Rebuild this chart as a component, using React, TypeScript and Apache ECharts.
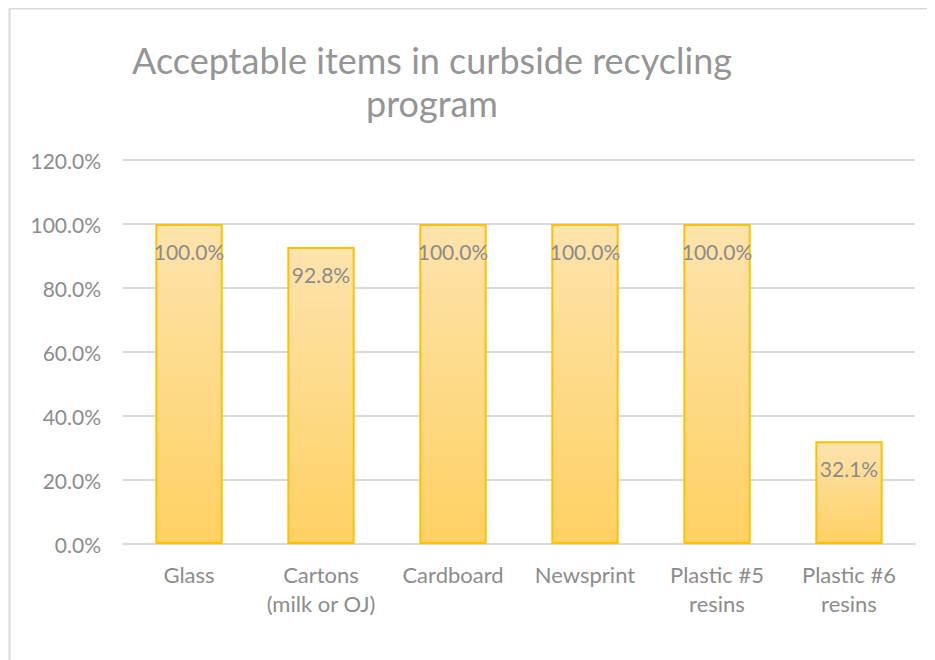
import React, { useEffect, useRef } from "react";
import * as echarts from "echarts";

const categories = ["Glass", "Cartons\n(milk or OJ)", "Cardboard", "Newsprint", "Plastic #5\nresins", "Plastic #6\nresins"];
const values = [100.0, 92.8, 100.0, 100.0, 100.0, 32.1];
const titleText = "Acceptable items in curbside recycling\nprogram";

export default function App() {
  const ref = useRef<HTMLDivElement>(null);
  useEffect(() => {
    const chart = echarts.init(ref.current!, null, { renderer: "svg" });
    const font = "Lato, 'Open Sans', sans-serif";
    chart.setOption({
      animation: false,
      backgroundColor: "#ffffff",
      title: {
        text: titleText,
        left: 419,
        top: 25,
        textAlign: "center",
        textStyle: { fontFamily: font, fontSize: 36, fontWeight: "normal", color: "#959595", lineHeight: 43 },
      },
      graphic: [
        {
          type: "rect",
          shape: { x: 1.5, y: 0.5, width: 2000, height: 2000 },
          style: { fill: "none", stroke: "#d9d9d9", lineWidth: 2 },
          silent: true,
        },
      ],
      grid: { left: 115, right: 20, top: 152, bottom: 116 },
      xAxis: {
        type: "category",
        data: categories,
        axisLine: { show: true, lineStyle: { color: "#d9d9d9", width: 2 } },
        axisTick: { show: false },
        axisLabel: { fontFamily: font, fontSize: 22, color: "#8c8c8c", margin: 16, lineHeight: 29, interval: 0 },
      },
      yAxis: {
        type: "value",
        min: 0,
        max: 120,
        interval: 20,
        axisLine: { show: false },
        axisTick: { show: false },
        splitLine: { lineStyle: { color: "#d9d9d9", width: 2 } },
        axisLabel: { fontFamily: font, fontSize: 21, color: "#8c8c8c", margin: 22, formatter: (v: number) => v.toFixed(1) + "%" },
      },
      series: [
        {
          type: "bar",
          data: values,
          barWidth: "51%",
          itemStyle: {
            color: new echarts.graphic.LinearGradient(0, 0, 0, 1, [
              { offset: 0, color: "#fde3ad" },
              { offset: 1, color: "#ffd163" },
            ]),
            borderColor: "#ffc000",
            borderWidth: 2,
          },
          label: {
            show: true,
            position: "insideTop",
            distance: 17,
            fontFamily: font,
            fontSize: 21,
            color: "#8c8c8c",
            formatter: (p: any) => p.value.toFixed(1) + "%",
          },
        },
      ],
    });
    return () => chart.dispose();
  }, []);
  return <div ref={ref} style={{ width: 927, height: 652 }} />;
}
